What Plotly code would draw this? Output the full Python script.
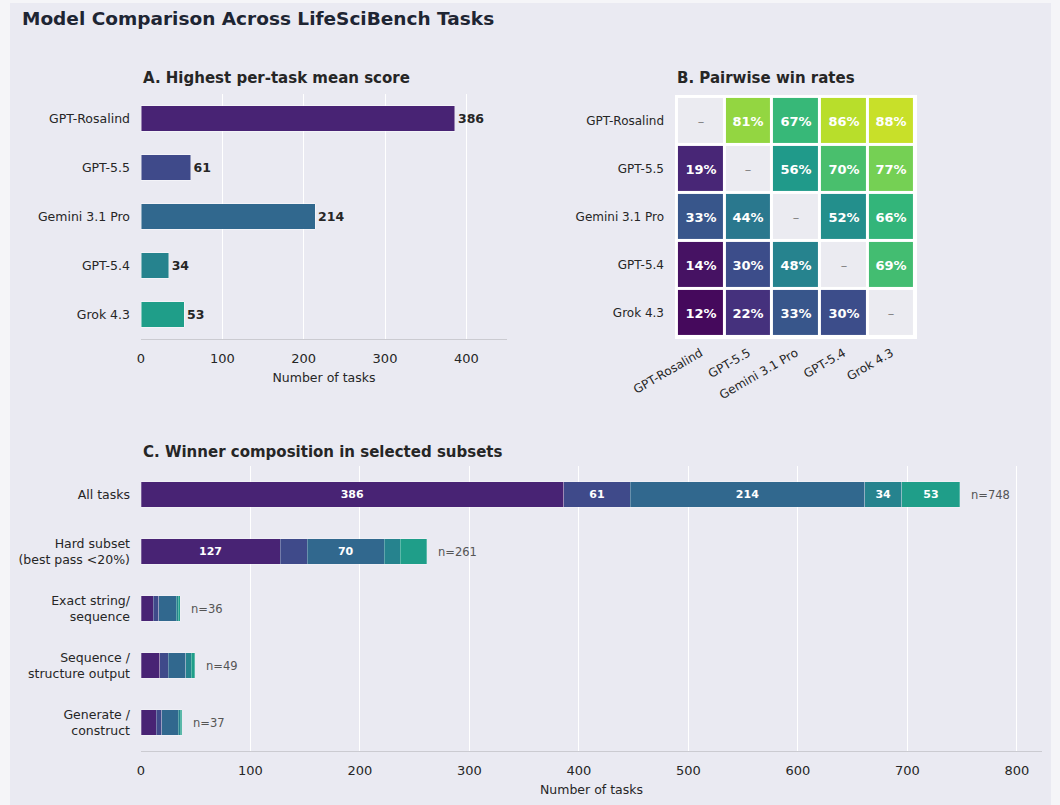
import plotly.graph_objects as go

# ---------------- data ----------------
models = ["GPT-Rosalind", "GPT-5.5", "Gemini 3.1 Pro", "GPT-5.4", "Grok 4.3"]
best_counts = [386, 61, 214, 34, 53]

win_rate = [
    [None, 0.81, 0.67, 0.86, 0.88],
    [0.19, None, 0.56, 0.70, 0.77],
    [0.33, 0.44, None, 0.52, 0.66],
    [0.14, 0.30, 0.48, None, 0.69],
    [0.12, 0.22, 0.33, 0.30, None],
]

subsets = ["All tasks", "Hard subset<br>(best pass <20%)", "Exact string/<br>sequence",
           "Sequence /<br>structure output", "Generate /<br>construct"]
sub_rosalind = [386, 127, 11, 17, 14]
sub_gpt55 = [61, 25, 5, 8, 5]
sub_gemini = [214, 70, 16, 16, 15]
sub_gpt54 = [34, 15, 2, 5, 2]
sub_grok = [53, 24, 2, 3, 1]

model_colors = ["#482374", "#3f4a8a", "#31688e", "#26838e", "#1f9e89"]

W, H = 1060, 805
BG = "#eaeaf2"
TXT = "#262626"
FONT = "DejaVu Sans"


def fx(p):
    return p / W


def fy(p):
    return 1 - p / H


fig = go.Figure()

# ---------------- Panel A ----------------
fig.add_trace(go.Bar(
    x=best_counts, y=models, orientation="h",
    marker=dict(color=model_colors, line=dict(color="rgba(255,255,255,0.55)", width=0.8)),
    width=0.52, text=best_counts, textposition="outside",
    textfont=dict(size=12.5, color=TXT, weight="bold", family=FONT),
    cliponaxis=False, showlegend=False, hoverinfo="skip",
    xaxis="x", yaxis="y",
))

# ---------------- Panel B ----------------
hm_text = [["" if v is None else f"{round(v*100)}%" for v in row] for row in win_rate]
diag_z = [[1 if i == j else None for j in range(5)] for i in range(5)]
diag_text = [["–" if i == j else "" for j in range(5)] for i in range(5)]

fig.add_trace(go.Heatmap(
    z=win_rate, x=models, y=models, colorscale="Viridis", zmin=0.10, zmax=0.95,
    showscale=False, xgap=3, ygap=3, text=hm_text, texttemplate="%{text}",
    textfont=dict(size=13, color="white", weight="bold", family=FONT),
    hoverinfo="skip", xaxis="x2", yaxis="y2",
))
fig.add_trace(go.Heatmap(
    z=diag_z, x=models, y=models, colorscale=[[0, "#ebebf1"], [1, "#ebebf1"]],
    showscale=False, xgap=3, ygap=3, text=diag_text, texttemplate="%{text}",
    textfont=dict(size=13, color="#808080", family=FONT),
    hoverinfo="skip", xaxis="x2", yaxis="y2",
))

# ---------------- Panel C ----------------
sub_series = [sub_rosalind, sub_gpt55, sub_gemini, sub_gpt54, sub_grok]
for name, vals, col in zip(models, sub_series, model_colors):
    fig.add_trace(go.Bar(
        x=vals, y=subsets, orientation="h", name=name,
        marker=dict(color=col, line=dict(color="rgba(255,255,255,0.45)", width=0.6)),
        width=0.45,
        text=[str(v) if v >= 30 else "" for v in vals],
        textposition="inside", insidetextanchor="middle", textangle=0,
        textfont=dict(size=11, color="white", weight="bold", family=FONT),
        showlegend=False, hoverinfo="skip", xaxis="x3", yaxis="y3",
    ))

totals = [sum(v) for v in zip(*sub_series)]
annotations = []
for s, t in zip(subsets, totals):
    annotations.append(dict(
        x=t, y=s, xref="x3", yref="y3", text=f"n={t}", showarrow=False,
        xanchor="left", xshift=9, font=dict(size=11.5, color="#555555", family=FONT),
    ))

# titles
annotations.append(dict(x=fx(20), y=fy(18), xref="paper", yref="paper", xanchor="left", yanchor="middle",
                        text="<b>Model Comparison Across LifeSciBench Tasks</b>", showarrow=False,
                        font=dict(size=18.5, color="#1e2533", family=FONT)))
for tx, ty, t in [(141, 78, "A. Highest per-task mean score"),
                  (675, 78, "B. Pairwise win rates"),
                  (141, 452, "C. Winner composition in selected subsets")]:
    annotations.append(dict(x=fx(tx), y=fy(ty), xref="paper", yref="paper", xanchor="left", yanchor="middle",
                            text=f"<b>{t}</b>", showarrow=False,
                            font=dict(size=15, color=TXT, family=FONT)))

shapes = [
    dict(type="rect", xref="paper", yref="paper", x0=fx(10), x1=fx(1051), y0=0, y1=fy(3),
         fillcolor=BG, line=dict(width=0), layer="below"),
    dict(type="rect", xref="x2", yref="y2", x0=-0.54, x1=4.54, y0=-0.54, y1=4.54,
         fillcolor="white", line=dict(width=0), layer="below"),
]

bar_x = dict(showgrid=True, gridcolor="white", gridwidth=1, zeroline=False,
             showline=True, linecolor="#cbcbd1", linewidth=1.3, ticks="",
             tickfont=dict(size=13, color=TXT), ticklabelstandoff=7, dtick=100,
             automargin=False,
             title=dict(text="Number of tasks", font=dict(size=12.5, color=TXT), standoff=8))
bar_y = dict(showgrid=False, zeroline=False, showline=False, ticks="", automargin=False,
             tickfont=dict(size=12.5, color=TXT), ticklabelstandoff=10)

fig.update_layout(
    width=W, height=H, margin=dict(l=0, r=0, t=0, b=0, autoexpand=False),
    paper_bgcolor="#f5f5f8", plot_bgcolor=BG,
    font=dict(family=FONT, color=TXT),
    barmode="stack", showlegend=False,
    xaxis=dict(domain=[fx(141), fx(507)], anchor="y", range=[0, 450], **bar_x),
    yaxis=dict(domain=[fy(339), fy(94)], anchor="x", autorange="reversed", **bar_y),
    xaxis2=dict(domain=[fx(675), fx(917)], anchor="y2", showgrid=False, zeroline=False, showline=False,
                ticks="", tickangle=-30, tickfont=dict(size=12, color=TXT), ticklabelstandoff=4,
                automargin=False),
    yaxis2=dict(domain=[fy(339), fy(95)], anchor="x2", autorange="reversed", showgrid=False,
                zeroline=False, showline=False, ticks="", tickfont=dict(size=12, color=TXT),
                ticklabelstandoff=10, automargin=False),
    xaxis3=dict(domain=[fx(141), fx(1042)], anchor="y3", range=[0, 823], **bar_x),
    yaxis3=dict(domain=[fy(751), fy(466)], anchor="x3", autorange="reversed", **bar_y),
    annotations=annotations, shapes=shapes,
)

fig.write_html("out.html")
